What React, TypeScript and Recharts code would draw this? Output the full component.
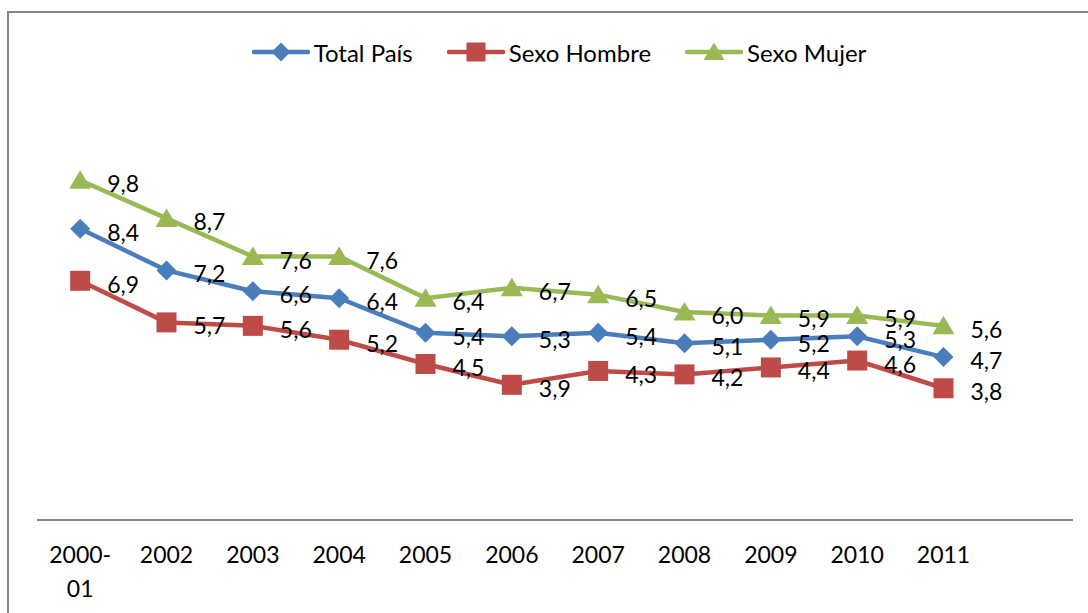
import React from 'react';
import { LineChart, Line, XAxis, YAxis } from 'recharts';

// categories (the last one is an empty slot, the plot area reserves it)
const CATEGORIES = ['2000-01', '2002', '2003', '2004', '2005', '2006', '2007', '2008', '2009', '2010', '2011', ''];
const TOTAL_PAIS = [8.4, 7.2, 6.6, 6.4, 5.4, 5.3, 5.4, 5.1, 5.2, 5.3, 4.7];
const SEXO_HOMBRE = [6.9, 5.7, 5.6, 5.2, 4.5, 3.9, 4.3, 4.2, 4.4, 4.6, 3.8];
const SEXO_MUJER = [9.8, 8.7, 7.6, 7.6, 6.4, 6.7, 6.5, 6.0, 5.9, 5.9, 5.6];

const SERIES = [
  { key: 'total', name: 'Total País', color: '#4A7EBB', shape: 'diamond' },
  { key: 'hombre', name: 'Sexo Hombre', color: '#BE4B48', shape: 'square' },
  { key: 'mujer', name: 'Sexo Mujer', color: '#98B954', shape: 'triangle' },
];

const data = CATEGORIES.map((name, i) => ({
  name,
  total: TOTAL_PAIS[i] ?? null,
  hombre: SEXO_HOMBRE[i] ?? null,
  mujer: SEXO_MUJER[i] ?? null,
}));

const FONT = 'Lato, "Open Sans", sans-serif';
const AXIS_GRAY = '#868686';

function Marker({ shape, cx, cy, color, size }: { shape: string; cx: number; cy: number; color: string; size: number }) {
  const h = size / 2;
  if (shape === 'diamond') {
    return <polygon points={`${cx},${cy - h} ${cx + h},${cy} ${cx},${cy + h} ${cx - h},${cy}`} fill={color} />;
  }
  if (shape === 'square') {
    return <rect x={cx - h} y={cy - h} width={size} height={size} fill={color} />;
  }
  return <polygon points={`${cx},${cy - h} ${cx + h * 1.1},${cy + h * 0.85} ${cx - h * 1.1},${cy + h * 0.85}`} fill={color} />;
}

const makeDot = (shape: string, color: string) => (props: any) => {
  const { cx, cy, index, value } = props;
  if (value == null || cy == null) return <g key={`d-${index}`} />;
  return (
    <g key={`d-${index}`}>
      <Marker shape={shape} cx={cx} cy={cy} color={color} size={20} />
    </g>
  );
};

const renderLabel = (props: any) => {
  const { x, y, value, index } = props;
  if (value == null) return <g key={`l-${index}`} />;
  return (
    <text key={`l-${index}`} x={x + 27} y={y + 3} dominantBaseline="central" fontSize={23} fontFamily={FONT} fill="#000">
      {Number(value).toFixed(1).replace('.', ',')}
    </text>
  );
};

const CategoryTick = (props: any) => {
  const { x, y, payload } = props;
  const label: string = payload.value;
  const cut = label.indexOf('-') + 1;
  const lines = cut > 0 ? [label.slice(0, cut), label.slice(cut)] : [label];
  return (
    <text x={x} y={y} textAnchor="middle" fontSize={23} fontFamily={FONT} fill="#000">
      {lines.map((l, i) => (
        <tspan key={i} x={x} dy={i === 0 ? 35 : 34}>
          {l}
        </tspan>
      ))}
    </text>
  );
};

function ChartLegend() {
  return (
    <div
      style={{
        position: 'absolute',
        top: 37,
        left: 0,
        width: 1088,
        display: 'flex',
        justifyContent: 'center',
        gap: 34,
        fontFamily: FONT,
        fontSize: 24,
        color: '#000',
        paddingLeft: 30,
        boxSizing: 'border-box',
      }}
    >
      {SERIES.map((s) => (
        <div key={s.key} style={{ display: 'flex', alignItems: 'center', height: 30 }}>
          <svg width={58} height={24} style={{ marginRight: 4 }}>
            <line x1={2} y1={12} x2={56} y2={12} stroke={s.color} strokeWidth={4.5} strokeLinecap="round" />
            <Marker shape={s.shape} cx={29} cy={12} color={s.color} size={19} />
          </svg>
          <span>{s.name}</span>
        </div>
      ))}
    </div>
  );
}

export default function App() {
  return (
    <div style={{ position: 'absolute', left: 0, top: 0, width: 1088, height: 613, overflow: 'hidden', background: '#fff' }}>
      <div
        style={{
          position: 'absolute',
          left: 7,
          top: 11,
          width: 1200,
          height: 800,
          border: `2px solid ${AXIS_GRAY}`,
        }}
      />
      <div style={{ position: 'absolute', left: 0, top: 0 }}>
        <LineChart width={1088} height={613} data={data} margin={{ top: 104, right: 15, bottom: 63, left: 37 }}>
          <XAxis
            dataKey="name"
            scale="band"
            axisLine={{ stroke: AXIS_GRAY, strokeWidth: 2 }}
            tickLine={false}
            tick={<CategoryTick />}
            interval={0}
          />
          <YAxis hide domain={[0, 12]} />
          {SERIES.map((s) => (
            <Line
              key={s.key}
              dataKey={s.key}
              name={s.name}
              stroke={s.color}
              strokeWidth={4.5}
              type="linear"
              dot={makeDot(s.shape, s.color)}
              activeDot={false}
              label={renderLabel}
              isAnimationActive={false}
            />
          ))}
        </LineChart>
      </div>
      <ChartLegend />
    </div>
  );
}
